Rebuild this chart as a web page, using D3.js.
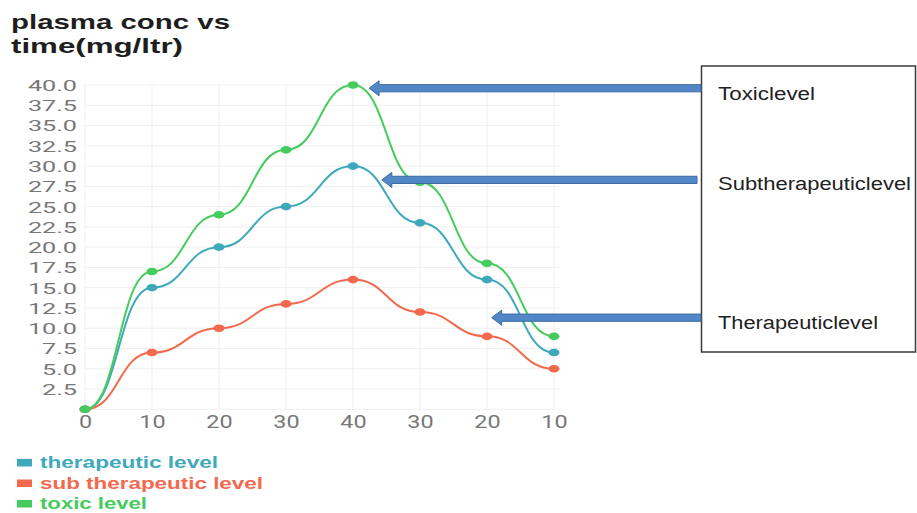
<!DOCTYPE html>
<html>
<head>
<meta charset="utf-8">
<script src="https://cdn.jsdelivr.net/npm/d3@7"></script>
<style>
  html, body { margin: 0; padding: 0; background: #fff; }
  svg { display: block; }
</style>
</head>
<body>
<svg id="chart" width="917" height="513"></svg>
<script>
// Time axis labels (hours) and plasma concentrations (mg/ltr)
const timeLabels = ["0", "10", "20", "30", "40", "30", "20", "10"];
const therapeutic = [0, 15, 20, 25, 30, 23, 16, 7];
const subTherapeutic = [0, 7, 10, 13, 16, 12, 9, 5];
const toxic = [0, 17, 24, 32, 40, 28, 18, 9];
const yTicks = [2.5, 5, 7.5, 10, 12.5, 15, 17.5, 20, 22.5, 25, 27.5, 30, 32.5, 35, 37.5, 40];

const seriesNames = ["therapeutic level", "sub therapeutic level", "toxic level"];
const seriesColors = ["#3fa9bb", "#f2694d", "#45cc5c"];

// Callouts: label, arrow tip (x in time-slot units, y in mg/ltr)
const calloutLabels = ["Toxiclevel", "Subtherapeuticlevel", "Therapeuticlevel"];
const calloutTipSlot = [4.24, 4.43, 6.07];
const calloutTipValue = [39.6, 28.3, 11.3];

const svg = d3.select("#chart");
const idx = d3.range(timeLabels.length);

const x = d3.scalePoint().domain(idx).range([85, 554]);
const xLin = d3.scaleLinear().domain([0, timeLabels.length - 1]).range([85, 554]);
const y = d3.scaleLinear().domain([0, 40]).range([409.3, 85]);

// stretch text horizontally by a factor
function stretch(sel, k) {
  sel.each(function () {
    const w = this.getComputedTextLength();
    d3.select(this).attr("textLength", w * k).attr("lengthAdjust", "spacingAndGlyphs");
  });
}

// Grid
const grid = svg.append("g");
grid.selectAll("line.h").data([0].concat(yTicks)).join("line")
  .attr("x1", x(0)).attr("x2", 560)
  .attr("y1", d => y(d)).attr("y2", d => y(d))
  .attr("stroke", "#efefef").attr("stroke-width", 1);
grid.selectAll("line.v").data(idx).join("line")
  .attr("x1", d => x(d)).attr("x2", d => x(d))
  .attr("y1", y(40)).attr("y2", y(0))
  .attr("stroke", "#efefef").attr("stroke-width", 1);

// Y axis labels
const yAxis = svg.append("g").attr("transform", "translate(77,0)")
  .call(d3.axisLeft(y).tickValues(yTicks).tickFormat(d3.format(".1f")).tickSize(0).tickPadding(0));
yAxis.select(".domain").remove();
yAxis.selectAll("text")
  .attr("font-family", "Roboto, sans-serif").attr("font-size", 15)
  .attr("fill", "#777").attr("dy", "0.36em")
  .call(stretch, 1.68);

// X axis labels
const xAxis = svg.append("g").attr("transform", `translate(0,${y(0)})`)
  .call(d3.axisBottom(x).tickFormat(i => timeLabels[i]).tickSize(0).tickPadding(6));
xAxis.select(".domain").remove();
xAxis.selectAll("text")
  .attr("font-family", "Roboto, sans-serif").attr("font-size", 18)
  .attr("fill", "#777")
  .call(stretch, 1.3);

// Series
const allSeries = [therapeutic, subTherapeutic, toxic];
const line = d3.line().x((d, i) => x(i)).y(d => y(d)).curve(d3.curveBumpX);
allSeries.forEach((vals, s) => {
  const g = svg.append("g");
  g.append("path").datum(vals)
    .attr("d", line).attr("fill", "none")
    .attr("stroke", seriesColors[s]).attr("stroke-width", 2);
  g.selectAll("ellipse").data(vals).join("ellipse")
    .attr("cx", (d, i) => x(i)).attr("cy", d => y(d))
    .attr("rx", 5.5).attr("ry", 3.8)
    .attr("fill", seriesColors[s]);
});

// Title (two lines)
const titleLines = ["plasma conc vs", "time(mg/ltr)"];
const titleWidths = [219, 172];
titleLines.forEach((t, i) => {
  svg.append("text")
    .attr("x", 11).attr("y", 29 + i * 24)
    .attr("font-family", "'Liberation Sans', Arial, sans-serif")
    .attr("font-weight", "bold").attr("font-size", 21).attr("fill", "#1e1e1e")
    .attr("textLength", titleWidths[i]).attr("lengthAdjust", "spacingAndGlyphs")
    .text(t);
});

// Legend
const legendWidths = [178, 223, 107];
const legend = svg.append("g");
seriesNames.forEach((name, s) => {
  const yy = 468 + s * 20.5;
  legend.append("rect").attr("x", 17).attr("y", yy - 9).attr("width", 15).attr("height", 7.5)
    .attr("fill", seriesColors[s]);
  legend.append("text").attr("x", 40).attr("y", yy)
    .attr("font-family", "'Liberation Sans', Arial, sans-serif").attr("font-weight", "bold")
    .attr("font-size", 16).attr("fill", seriesColors[s]).text(name)
    .attr("textLength", legendWidths[s]).attr("lengthAdjust", "spacingAndGlyphs");
});

// Callout box
const boxLeft = 701.5, boxTop = 66, boxRight = 915.5, boxBottom = 352;
svg.append("rect")
  .attr("x", boxLeft).attr("y", boxTop)
  .attr("width", boxRight - boxLeft).attr("height", boxBottom - boxTop)
  .attr("fill", "#fff").attr("stroke", "#3a3a3a").attr("stroke-width", 1.5);

// Block arrows from the box to the curves
const tailX = [701, 697, 701];
const labelWidths = [97, 193, 160];
const labelBaseline = [100, 190, 329];
calloutLabels.forEach((lab, i) => {
  const tx = xLin(calloutTipSlot[i]);
  const ty = y(calloutTipValue[i]);
  const sh = 3.6, hh = 7.5, hl = 10;
  const p = d3.path();
  p.moveTo(tx, ty);
  p.lineTo(tx + hl, ty - hh);
  p.lineTo(tx + hl, ty - sh);
  p.lineTo(tailX[i], ty - sh);
  p.lineTo(tailX[i], ty + sh);
  p.lineTo(tx + hl, ty + sh);
  p.lineTo(tx + hl, ty + hh);
  p.closePath();
  svg.append("path").attr("d", p.toString())
    .attr("fill", "#5288c8").attr("stroke", "#3b6aa3").attr("stroke-width", 1);
  svg.append("text").attr("x", 718).attr("y", labelBaseline[i])
    .attr("font-family", "'Liberation Sans', Arial, sans-serif")
    .attr("font-size", 18).attr("fill", "#222").text(lab)
    .attr("textLength", labelWidths[i]).attr("lengthAdjust", "spacingAndGlyphs");
});
</script>
</body>
</html>
